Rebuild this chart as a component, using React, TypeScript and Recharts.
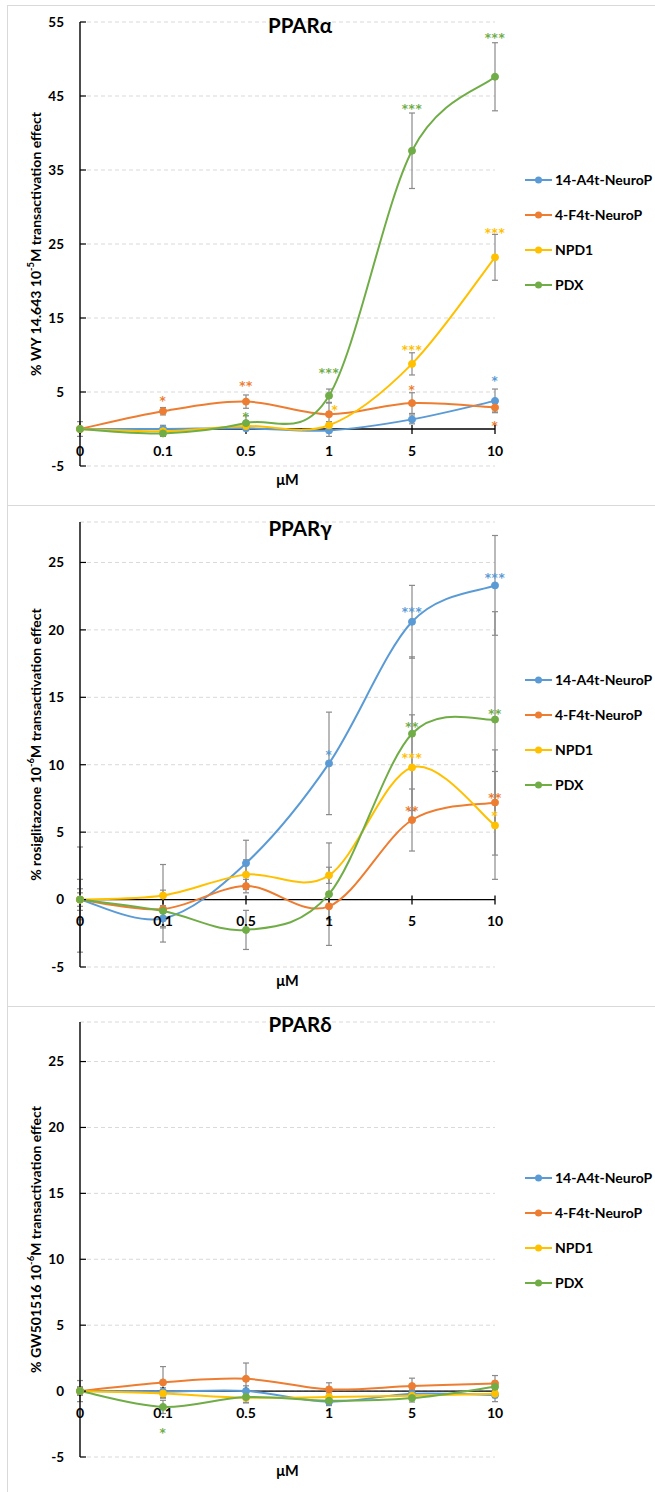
import { LineChart, Line, XAxis, YAxis, CartesianGrid, ErrorBar, ReferenceDot, LabelList, Legend } from "recharts";

const FONT = "Lato, 'Open Sans', sans-serif";
const STAR_FONT = "'DejaVu Sans', sans-serif";

const doses = ["0", "0.1", "0.5", "1", "5", "10"];
const seriesNames = ["14-A4t-NeuroP", "4-F4t-NeuroP", "NPD1", "PDX"];
const seriesColors = ["#5B9BD5", "#ED7D31", "#FFC000", "#70AD47"];

// PPARα
const alphaA4t = [0, 0, 0.1, -0.2, 1.3, 3.8];
const alphaF4t = [0, 2.4, 3.7, 2.0, 3.5, 2.9];
const alphaNpd1 = [0, -0.3, 0.4, 0.5, 8.8, 23.2];
const alphaPdx = [0, -0.6, 0.8, 4.5, 37.6, 47.6];
const alphaA4tErr = [1.0, 0.5, 0.3, 0.8, 0.6, 1.6];
const alphaF4tErr = [0.3, 0.5, 0.9, 1.5, 1.4, 0.6];
const alphaNpd1Err = [0.3, 0.3, 0.5, 0.5, 1.5, 3.1];
const alphaPdxErr = [0.3, 0.4, 1.0, 0.9, 5.1, 4.6];
const alphaTicks = [-5, 5, 15, 25, 35, 45, 55];
const alphaMarks = [
  { s: 1, at: "0.1", y: 4.2, text: "*" },
  { s: 1, at: "0.5", y: 6.3, text: "**" },
  { s: 3, at: "0.5", y: 2.1, text: "*" },
  { s: 3, at: "1", y: 8.0, text: "***" },
  { s: 2, at: "1", y: 3.1, text: "*", dx: 6 },
  { s: 1, at: "5", y: 5.7, text: "*" },
  { s: 2, at: "5", y: 11.2, text: "***" },
  { s: 3, at: "5", y: 43.7, text: "***" },
  { s: 3, at: "10", y: 53.3, text: "***" },
  { s: 2, at: "10", y: 27.0, text: "***" },
  { s: 0, at: "10", y: 6.9, text: "*" },
  { s: 1, at: "10", y: 0.85, text: "*" },
];

// PPARγ
const gammaA4t = [0, -1.4, 2.7, 10.1, 20.6, 23.3];
const gammaF4t = [0, -0.7, 1.0, -0.5, 5.9, 7.2];
const gammaNpd1 = [0, 0.3, 1.85, 1.8, 9.8, 5.5];
const gammaPdx = [0, -0.85, -2.25, 0.4, 12.3, 13.35];
const gammaA4tErr = [3.9, 1.75, 1.7, 3.8, 2.7, 3.7];
const gammaF4tErr = [1.5, 1.4, 0.5, 1.0, 2.3, 3.9];
const gammaNpd1Err = [0.5, 2.3, 1.1, 0.6, 3.9, 4.0];
const gammaPdxErr = [0.8, 0.4, 1.45, 3.8, 5.7, 8.0];
const gammaTicks = [-5, 0, 5, 10, 15, 20, 25];
const gammaMarks = [
  { s: 0, at: "1", y: 11.0, text: "*" },
  { s: 0, at: "5", y: 21.6, text: "***" },
  { s: 0, at: "10", y: 24.1, text: "***" },
  { s: 3, at: "5", y: 13.05, text: "**" },
  { s: 3, at: "10", y: 14.0, text: "**" },
  { s: 2, at: "5", y: 10.75, text: "***" },
  { s: 1, at: "5", y: 6.8, text: "**" },
  { s: 1, at: "10", y: 7.8, text: "**" },
  { s: 2, at: "10", y: 6.45, text: "*" },
];

// PPARδ
const deltaA4t = [0, -0.05, 0, -0.8, -0.2, -0.3];
const deltaF4t = [0, 0.66, 0.93, 0.13, 0.38, 0.58];
const deltaNpd1 = [0, -0.18, -0.5, -0.45, -0.35, -0.2];
const deltaPdx = [0, -1.2, -0.45, -0.73, -0.53, 0.33];
const deltaA4tErr = [0.8, 0.3, 0.4, 0.3, 0.3, 0.5];
const deltaF4tErr = [0.3, 1.2, 1.2, 0.5, 0.6, 0.6];
const deltaNpd1Err = [0.3, 0.3, 0.4, 0.3, 0.3, 0.3];
const deltaPdxErr = [0.3, 0.5, 0.4, 0.3, 0.3, 0.4];
const deltaTicks = [-5, 0, 5, 10, 15, 20, 25];
const deltaMarks = [{ s: 3, at: "0.1", y: -2.9, text: "*" }];

type Mark = { s: number; at: string; y: number; text: string; dx?: number };

// Excel-style smoothed line (Catmull-Rom as bezier)
function excelSmooth(context: any) {
  let pts: number[][] = [];
  return {
    areaStart() {},
    areaEnd() {},
    lineStart() {
      pts = [];
    },
    point(x: number, y: number) {
      pts.push([+x, +y]);
    },
    lineEnd() {
      if (!pts.length) return;
      context.moveTo(pts[0][0], pts[0][1]);
      for (let i = 0; i < pts.length - 1; i++) {
        const p0 = pts[Math.max(0, i - 1)];
        const p1 = pts[i];
        const p2 = pts[i + 1];
        const p3 = pts[Math.min(pts.length - 1, i + 2)];
        context.bezierCurveTo(
          p1[0] + (p2[0] - p0[0]) / 6,
          p1[1] + (p2[1] - p0[1]) / 6,
          p2[0] - (p3[0] - p1[0]) / 6,
          p2[1] - (p3[1] - p1[1]) / 6,
          p2[0],
          p2[1]
        );
      }
    },
  };
}

function buildRows(values: number[][], errors: number[][]) {
  return doses.map((cat, i) => {
    const row: Record<string, any> = { cat, zero: 0 };
    values.forEach((v, s) => {
      row[`v${s}`] = v[i];
      row[`e${s}`] = errors[s][i];
    });
    return row;
  });
}

function LegendBox() {
  return (
    <div style={{ fontFamily: FONT, fontWeight: 700, fontSize: 14, color: "#000" }}>
      {seriesNames.map((name, i) => (
        <div key={name} style={{ height: 35, display: "flex", alignItems: "center", whiteSpace: "nowrap" }}>
          <svg width={28} height={10} style={{ flex: "none" }}>
            <line x1={0} x2={27} y1={5} y2={5} stroke={seriesColors[i]} strokeWidth={2} />
            <circle cx={13.5} cy={5} r={3.5} fill={seriesColors[i]} />
          </svg>
          <span style={{ marginLeft: 2 }}>{name}</span>
        </div>
      ))}
    </div>
  );
}

interface PanelProps {
  top: number;
  height: number;
  title: string;
  titleBaseline: number;
  label: string[];
  values: number[][];
  errors: number[][];
  marks: Mark[];
  domain: number[];
  ticks: number[];
  marginTop: number;
  marginBottom: number;
  legendTop: number;
}

function Panel(p: PanelProps) {
  const rows = buildRows(p.values, p.errors);
  return (
    <div style={{ position: "absolute", left: 0, top: p.top, width: 655, height: p.height }}>
      <LineChart
        width={655}
        height={p.height}
        data={rows}
        margin={{ top: p.marginTop, right: 160, bottom: p.marginBottom, left: 40 }}
      >
        <CartesianGrid horizontal vertical={false} stroke="#d9d9d9" strokeDasharray="4 3" />
        <XAxis
          dataKey="cat"
          height={30}
          tick={false}
          axisLine={false}
          tickLine={false}
          label={(lp: any) => {
            const vb = lp.viewBox;
            return (
              <text x={vb.x + vb.width / 2} y={vb.y + 18.5} textAnchor="middle" fontFamily={FONT} fontWeight={700} fontSize={14.5} fill="#000">
                μM
              </text>
            );
          }}
        />
        <YAxis
          width={40}
          domain={p.domain}
          ticks={p.ticks}
          allowDataOverflow
          interval={0}
          axisLine={{ stroke: "#000", strokeWidth: 1.4 }}
          tickLine={{ stroke: "#000", strokeWidth: 1.2 }}
          tickSize={-6}
          tickMargin={22}
          tick={{ fill: "#000", fontSize: 13.5, fontWeight: 700, fontFamily: FONT }}
          label={(lp: any) => {
            const vb = lp.viewBox;
            const cx = vb.x - 5;
            const cy = vb.y + vb.height / 2;
            return (
              <text
                x={cx}
                y={cy}
                transform={`rotate(-90 ${cx} ${cy})`}
                textAnchor="middle"
                dominantBaseline="central"
                fontFamily={FONT}
                fontWeight={700}
                fontSize={14}
                fill="#000"
              >
                <tspan>{p.label[0]}</tspan>
                <tspan dy={-5} fontSize={9.5}>{p.label[1]}</tspan>
                <tspan dy={5}>{p.label[2]}</tspan>
              </text>
            );
          }}
        />
        <Line
          dataKey="zero"
          type="linear"
          stroke="#000"
          strokeWidth={1.3}
          legendType="none"
          isAnimationActive={false}
          activeDot={false}
          dot={(dp: any) => (
            <line key={`tk${dp.index}`} x1={dp.cx} x2={dp.cx} y1={dp.cy - 4} y2={dp.cy + 5} stroke="#000" strokeWidth={1.3} />
          )}
        >
          <LabelList
            dataKey="cat"
            content={(lp: any) => {
              const x = lp.x ?? lp.viewBox?.x;
              const y = lp.y ?? lp.viewBox?.y;
              return (
                <text x={x} y={y + 26.5} textAnchor="middle" fontFamily={FONT} fontWeight={700} fontSize={14} fill="#000">
                  {lp.value}
                </text>
              );
            }}
          />
        </Line>
        {seriesNames.map((name, s) => (
          <Line
            key={name}
            name={name}
            dataKey={`v${s}`}
            type={excelSmooth as any}
            stroke={seriesColors[s]}
            strokeWidth={2}
            dot={{ r: 3.5, fill: seriesColors[s], stroke: seriesColors[s], strokeWidth: 1 }}
            activeDot={false}
            isAnimationActive={false}
          >
            <ErrorBar dataKey={`e${s}`} width={3} stroke="#8a8a8a" strokeWidth={1.2} direction="y" />
          </Line>
        ))}
        {p.marks.map((m, i) => (
          <ReferenceDot
            key={`m${i}`}
            x={m.at}
            y={m.y}
            r={2}
            fill="none"
            stroke="none"
            label={(lp: any) => {
              const vb = lp.viewBox;
              const cx = vb.x + vb.width / 2 + (m.dx || 0);
              const cy = vb.y + vb.height / 2;
              return (
                <text x={cx} y={cy + 7.5} textAnchor="middle" fontFamily={STAR_FONT} fontWeight={700} fontSize={12} letterSpacing={0.5} fill={seriesColors[m.s]}>
                  {m.text}
                </text>
              );
            }}
          />
        ))}
        <Legend
          layout="vertical"
          align="center"
          verticalAlign="middle"
          wrapperStyle={{ left: 525, top: p.legendTop, width: 130 }}
          content={() => <LegendBox />}
        />
      </LineChart>
      <svg width={655} height={50} style={{ position: "absolute", left: 0, top: 0, pointerEvents: "none" }}>
        <text x={300} y={p.titleBaseline} textAnchor="middle" fontFamily={FONT} fontWeight={700} fontSize={20.5} fill="#000">
          {p.title}
        </text>
      </svg>
    </div>
  );
}

const boxStyle = (top: number, height: number): React.CSSProperties => ({
  position: "absolute",
  left: 7,
  top,
  width: 700,
  height,
  border: "1px solid #d9d9d9",
  boxSizing: "border-box",
});

export default function App() {
  return (
    <div style={{ position: "absolute", left: 0, top: 0, width: 655, height: 1492, overflow: "hidden", background: "#fff" }}>
      <div style={boxStyle(5, 501)} />
      <div style={boxStyle(505, 502)} />
      <div style={boxStyle(1006, 600)} />
      <Panel
        top={0}
        height={500}
        title="PPARα"
        titleBaseline={32.5}
        label={["% WY 14.643 10", "-5", "M transactivation effect"]}
        values={[alphaA4t, alphaF4t, alphaNpd1, alphaPdx]}
        errors={[alphaA4tErr, alphaF4tErr, alphaNpd1Err, alphaPdxErr]}
        marks={alphaMarks}
        domain={[-5, 55]}
        ticks={alphaTicks}
        marginTop={22}
        marginBottom={4}
        legendTop={162}
      />
      <Panel
        top={505}
        height={500}
        title="PPARγ"
        titleBaseline={31}
        label={["% rosiglitazone 10", "-6", "M transactivation effect"]}
        values={[gammaA4t, gammaF4t, gammaNpd1, gammaPdx]}
        errors={[gammaA4tErr, gammaF4tErr, gammaNpd1Err, gammaPdxErr]}
        marks={gammaMarks}
        domain={[-5, 28]}
        ticks={gammaTicks}
        marginTop={17}
        marginBottom={8}
        legendTop={157}
      />
      <Panel
        top={1005}
        height={487}
        title="PPARδ"
        titleBaseline={26.7}
        label={["% GW501516 10", "-6", "M transactivation effect"]}
        values={[deltaA4t, deltaF4t, deltaNpd1, deltaPdx]}
        errors={[deltaA4tErr, deltaF4tErr, deltaNpd1Err, deltaPdxErr]}
        marks={deltaMarks}
        domain={[-5, 28]}
        ticks={deltaTicks}
        marginTop={17}
        marginBottom={5}
        legendTop={155}
      />
    </div>
  );
}
